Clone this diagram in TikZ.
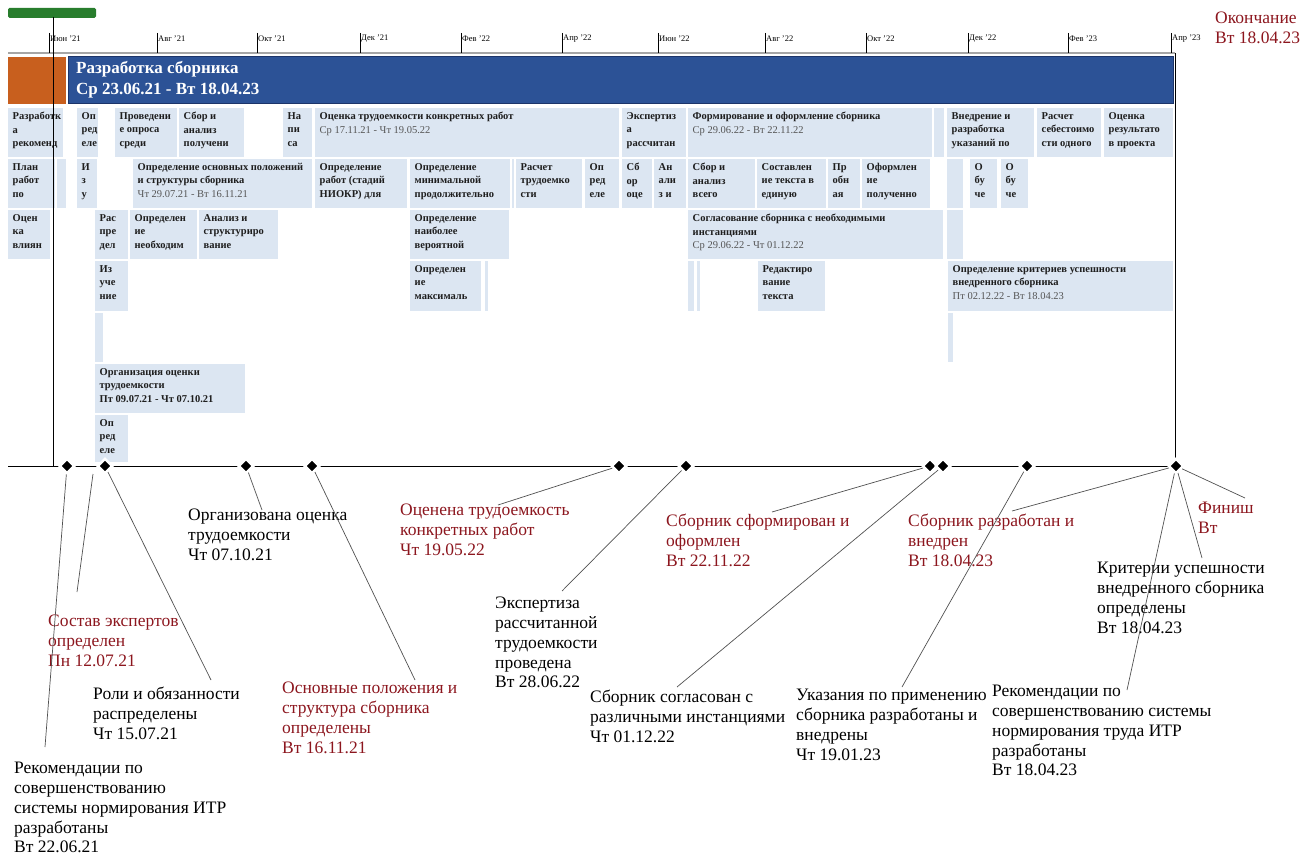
\documentclass[tikz,border=0pt]{standalone}
\usepackage{fontspec}
\setmainfont{Liberation Serif}
\usetikzlibrary{shapes.geometric}

\definecolor{barblue}{RGB}{44,82,150}
\definecolor{barline}{RGB}{28,52,105}
\definecolor{barorange}{RGB}{200,95,30}
\definecolor{bargreen}{RGB}{40,125,45}
\definecolor{boxfill}{RGB}{220,230,242}
\definecolor{boxink}{RGB}{30,30,30}
\definecolor{dategray}{RGB}{85,85,85}
\definecolor{darkred}{RGB}{140,22,30}
\definecolor{leadgray}{RGB}{80,80,80}

% one task of the gantt chart: name, x1, y1, x2, y2, text
\newcommand\ganttbox[6]{%
  \begin{scope}
    \clip (#2,#3) rectangle (#4,#5);
    \fill[boxfill] (#2,#3) rectangle (#4,#5);
    \node[tasktext] (#1) at (#2,#3) {#6};
  \end{scope}}
\newcommand\spandate[1]{{\mdseries\color{dategray}#1}}

\begin{document}
\begin{tikzpicture}[x=1pt,y=-1pt,
    tasktext/.style={anchor=north west, align=left, inner xsep=4.5pt, inner ysep=4pt,
                     text=boxink, font=\fontsize{10.5}{13.5}\selectfont\bfseries},
    mstone/.style={diamond, fill=black, draw=white, line width=2.5pt,
                   minimum size=15.5pt, inner sep=0pt},
    leader/.style={draw=leadgray, line width=0.7pt},
    mlabel/.style={anchor=north west, align=left, inner sep=0pt,
                   font=\fontsize{17.5}{19.8}\selectfont},
    redlabel/.style={mlabel, text=darkred},
    monthlabel/.style={anchor=west, inner sep=1pt, font=\fontsize{8.5}{10}\selectfont}]
\useasboundingbox (0,0) rectangle (1300,856);

%% header
\fill[bargreen, rounded corners=1.5pt] (8,8) rectangle (96,18);
\draw[gray!70, line width=1.6pt] (8,53) -- (1175,53);
\foreach \tx/\tm in {49/Июн '21, 157/Авг '21, 257/Окт '21, 360/Дек '21,
                     461/Фев '22, 562/Апр '22, 658/Июн '22, 765/Авг '22,
                     866/Окт '22, 968/Дек '22, 1068/Фев '23, 1171/Апр '23}{
    \draw[black, line width=0.6pt] (\tx,33) -- (\tx,53);
    \node[monthlabel] (h\tx) at (\tx,39) {\tm};
}
\node[redlabel] (fin) at (1215,12) {Окончание\\Вт 18.04.23};

%% summary bars
\fill[barorange] (8,57) rectangle (66,104);
\fill[barblue, draw=barline, line width=1pt] (68,57) rectangle (1173,104);
\node[anchor=north west, align=left, text=white, inner xsep=8pt, inner ysep=4pt,
      font=\fontsize{17}{21}\selectfont\bfseries] (main) at (68,57)
      {Разработка сборника\\Ср 23.06.21 - Вт 18.04.23};

%% row 1
\ganttbox{a1}{8}{108}{63}{157}{Разработк\\а\\рекоменд}
\ganttbox{a2}{77}{108}{98}{157}{Оп\\ред\\еле}
\ganttbox{a3}{115}{108}{177}{157}{Проведени\\е опроса\\среди}
\ganttbox{a4}{179}{108}{244}{157}{Сбор и\\анализ\\получени}
\ganttbox{a5}{283}{108}{312}{157}{На\\пи\\са}
\ganttbox{a6}{315}{108}{619}{157}{Оценка трудоемкости конкретных работ\\\spandate{Ср 17.11.21 - Чт 19.05.22}}
\ganttbox{a7}{622}{108}{686}{157}{Экспертиз\\а\\рассчитан}
\ganttbox{a8}{688}{108}{932}{157}{Формирование и оформление сборника\\\spandate{Ср 29.06.22 - Вт 22.11.22}}
\fill[boxfill] (934,108) rectangle (944,157);
\ganttbox{a9}{947}{108}{1034}{157}{Внедрение и\\разработка\\указаний по}
\ganttbox{a10}{1037}{108}{1101}{157}{Расчет\\себестоимо\\сти одного}
\ganttbox{a11}{1104}{108}{1173}{157}{Оценка\\результато\\в проекта}

%% row 2
\ganttbox{b1}{8}{159}{55}{208}{План\\работ\\по}
\fill[boxfill] (57,159) rectangle (66,208);
\ganttbox{b2}{77}{159}{97}{208}{И\\з\\у}
\ganttbox{b3}{133}{159}{312}{208}{Определение основных положений\\и структуры сборника\\\spandate{Чт 29.07.21 - Вт 16.11.21}}
\ganttbox{b4}{315}{159}{407}{208}{Определение\\работ (стадий\\НИОКР) для}
\ganttbox{b5}{410}{159}{510}{208}{Определение\\минимальной\\продолжительно}
\fill[boxfill] (511.5,159) rectangle (514,208);
\ganttbox{b6}{516}{159}{582}{208}{Расчет\\трудоемко\\сти}
\ganttbox{b7}{585}{159}{619}{208}{Оп\\ред\\еле}
\ganttbox{b8}{622}{159}{652}{208}{Сб\\ор\\оце}
\ganttbox{b9}{654}{159}{686}{208}{Ан\\али\\з и}
\ganttbox{b10}{688}{159}{755}{208}{Сбор и\\анализ\\всего}
\ganttbox{b11}{757}{159}{826}{208}{Составлен\\ие текста в\\единую}
\ganttbox{b12}{828}{159}{860}{208}{Пр\\обн\\ая}
\ganttbox{b13}{862}{159}{930}{208}{Оформлен\\ие\\полученно}
\fill[boxfill] (947,159) rectangle (963,208);
\ganttbox{b14}{970}{159}{997}{208}{О\\бу\\че}
\ganttbox{b15}{1001}{159}{1028}{208}{О\\бу\\че}

%% row 3
\ganttbox{c1}{8}{210}{50}{259}{Оцен\\ка\\влиян}
\ganttbox{c2}{95}{210}{128}{259}{Рас\\пре\\дел}
\ganttbox{c3}{130}{210}{197}{259}{Определен\\ие\\необходим}
\ganttbox{c4}{199}{210}{278}{259}{Анализ и\\структуриро\\вание}
\ganttbox{c5}{410}{210}{509}{259}{Определение\\наиболее\\вероятной}
\ganttbox{c6}{688}{210}{943}{259}{Согласование сборника с необходимыми\\инстанциями\\\spandate{Ср 29.06.22 - Чт 01.12.22}}
\fill[boxfill] (947,210) rectangle (963,259);

%% row 4
\ganttbox{d1}{95}{261}{128}{311}{Из\\уче\\ние}
\ganttbox{d2}{410}{261}{481}{311}{Определен\\ие\\максималь}
\fill[boxfill] (485,261) rectangle (488,311);
\fill[boxfill] (688,261) rectangle (694,311);
\fill[boxfill] (697,261) rectangle (700,311);
\ganttbox{d3}{758}{261}{825}{311}{Редактиро\\вание\\текста}
\ganttbox{d4}{948}{261}{1173}{311}{Определение критериев успешности\\внедренного сборника\\\spandate{Пт 02.12.22 - Вт 18.04.23}}

%% rows 5 to 7
\fill[boxfill] (95,313) rectangle (103,362);
\fill[boxfill] (948,313) rectangle (953,362);
\ganttbox{f1}{95}{364}{245}{413}{Организация оценки\\трудоемкости\\Пт 09.07.21 - Чт 07.10.21}
\ganttbox{g1}{95}{415}{128}{462}{Оп\\ред\\еле}

%% frame and milestone line
\draw[black, line width=1pt] (53,17) -- (53,466);
\draw[black, line width=0.8pt] (1175,53) -- (1175,466);
\draw[black, line width=1pt] (8,466) -- (1175,466);

\node[mstone] (m1) at (67,466) {};
\coordinate (m2) at (93,474);
\node[mstone] (m3) at (105,466) {};
\node[mstone] (m4) at (246,466) {};
\node[mstone] (m5) at (312,466) {};
\node[mstone] (m6) at (619,466) {};
\node[mstone] (m7) at (686,466) {};
\node[mstone] (m8) at (930,466) {};
\node[mstone] (m9) at (943,466) {};
\node[mstone] (m10) at (1027,466) {};
\node[mstone] (m11) at (1176,466) {};

%% milestone labels
\node[mlabel] (l1) at (14,762) {Рекомендации по\\совершенствованию\\системы нормирования ИТР\\разработаны\\Вт 22.06.21};
\node[redlabel] (l2) at (48,615) {Состав экспертов\\определен\\Пн 12.07.21};
\node[mlabel] (l3) at (93,687) {Роли и обязанности\\распределены\\Чт 15.07.21};
\node[mlabel] (l4) at (188,509) {Организована оценка\\трудоемкости\\Чт 07.10.21};
\node[redlabel] (l5) at (282,682) {Основные положения и\\структура сборника\\определены\\Вт 16.11.21};
\node[redlabel] (l6) at (400,504) {Оценена трудоемкость\\конкретных работ\\Чт 19.05.22};
\node[mlabel] (l7) at (495,597) {Экспертиза\\рассчитанной\\трудоемкости\\проведена\\Вт 28.06.22};
\node[redlabel] (l8) at (666,514) {Сборник сформирован и\\оформлен\\Вт 22.11.22};
\node[mlabel] (l9) at (590,690) {Сборник согласован с\\различными инстанциями\\Чт 01.12.22};
\node[redlabel] (l10) at (908,514) {Сборник разработан и\\внедрен\\Вт 18.04.23};
\node[mlabel] (l11) at (796,689) {Указания по применению\\сборника разработаны и\\внедрены\\Чт 19.01.23};
\node[mlabel] (l12) at (1097,562) {Критерии успешности\\внедренного сборника\\определены\\Вт 18.04.23};
\node[mlabel] (l13) at (992,685) {Рекомендации по\\совершенствованию системы\\нормирования труда ИТР\\разработаны\\Вт 18.04.23};
\node[redlabel] (l14) at (1198,502) {Финиш\\Вт};

%% leader ends
\coordinate (p1) at (45,747);
\coordinate (p2) at (77,592);
\coordinate (p3) at (211,680);
\coordinate (p4) at (262,510);
\coordinate (p5) at (415,680);
\coordinate (p6) at (498,505);
\coordinate (p7) at (562,591);
\coordinate (p8) at (772,512);
\coordinate (p9) at (677,687);
\coordinate (p10) at (1012,511);
\coordinate (p11) at (902,687);
\coordinate (p12) at (1202,558);
\coordinate (p13) at (1127,690);
\coordinate (p14) at (1245,498);

\draw[leader] (m1) -- (p1);
\draw[leader] (m2) -- (p2);
\draw[leader] (m3) -- (p3);
\draw[leader] (m4) -- (p4);
\draw[leader] (m5) -- (p5);
\draw[leader] (m6) -- (p6);
\draw[leader] (m7) -- (p7);
\draw[leader] (m8) -- (p8);
\draw[leader] (m9) -- (p9);
\draw[leader] (m11) -- (p10);
\draw[leader] (m10) -- (p11);
\draw[leader] (m11) -- (p12);
\draw[leader] (m11) -- (p13);
\draw[leader] (m11) -- (p14);
\end{tikzpicture}
\end{document}
